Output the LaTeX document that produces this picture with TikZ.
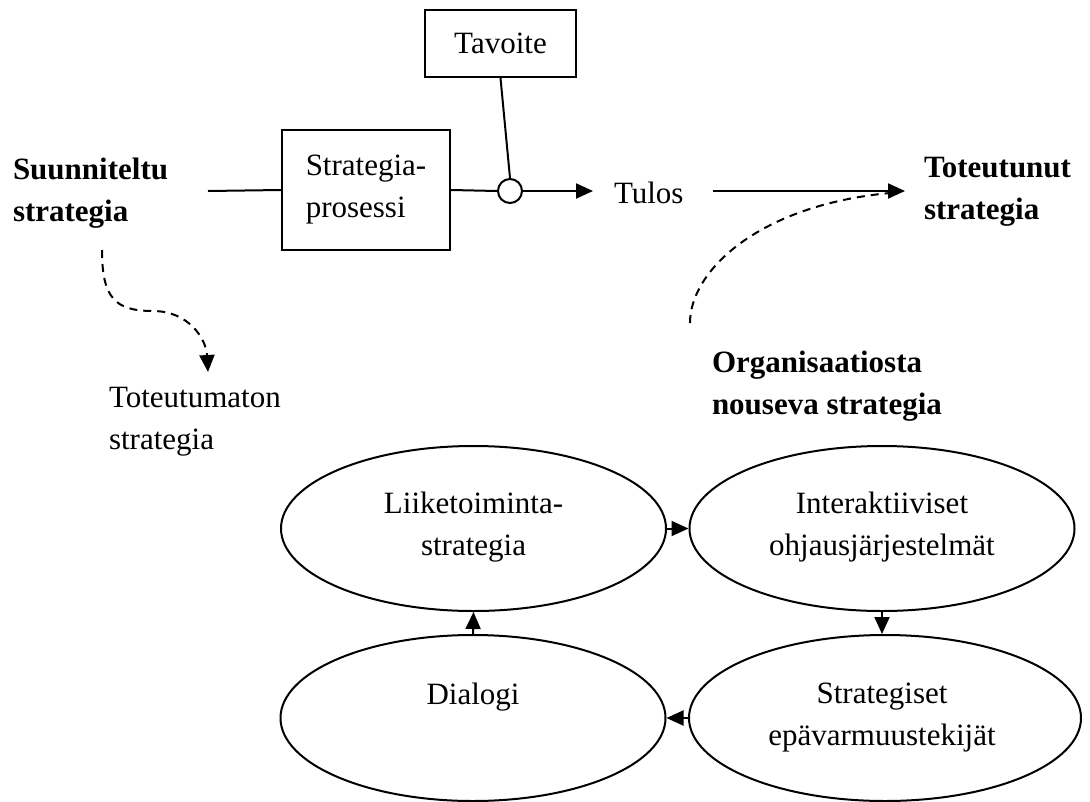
\documentclass[tikz,border=0pt]{standalone}
\usepackage{fontspec}
\setmainfont{Liberation Serif}
\usetikzlibrary{arrows.meta,shapes.geometric,positioning}

\begin{document}
\begin{tikzpicture}[x=1pt,y=-1pt,line width=2pt,
  >={Triangle[length=17pt,width=15pt]},
  every node/.style={font=\fontsize{31}{42}\selectfont, inner sep=0pt},
  txt/.style={align=left, anchor=west},
  bx/.style={draw, rectangle},
  oval/.style={draw, ellipse, minimum width=385pt, minimum height=165pt},
  dashline/.style={dash pattern=on 8pt off 6pt}]
\useasboundingbox (0,0) rectangle (1090,801);
%% top row
\node[txt, font=\fontsize{31}{42}\selectfont\bfseries] (plan) at (12,193) {Suunniteltu\\strategia};
\node[bx, align=left, minimum width=168pt, minimum height=120pt] (proc) at (366,190) {Strategia-\\prosessi};
\node[bx, minimum width=151pt, minimum height=67pt] (goal) at (500.5,43.5) {Tavoite};
\node[draw, circle, minimum size=24pt] (cmp) at (510,191) {};
\node[txt] (res) at (613,193) {Tulos};
\node[txt, font=\fontsize{31}{42}\selectfont\bfseries] (real) at (923,192) {Toteutunut\\strategia};
\node[txt] (unreal) at (108,422) {Toteutumaton\\strategia};
\node[txt, font=\fontsize{31}{42}\selectfont\bfseries] (emerg) at (711,386) {Organisaatiosta\\nouseva strategia};
\coordinate (in) at (208,191);
%% connectors
\draw (in) -- (proc.west);
\draw (proc.east) -- (cmp.west);
\draw (goal.south) -- (cmp.north);
\draw[->] (cmp.east) -- ([xshift=-20pt]res.west |- cmp.east);
\draw[->] ([xshift=28pt]res.east |- cmp.east) -- ([xshift=-18pt]real.west |- cmp.east);
%%% dashed curves
\coordinate (p0) at (102,250);
\coordinate (p1) at (153,311);
\coordinate (p2) at (208,372);
\draw[dashline,->] (p0) .. controls (102,298) and (115,311) .. (p1)
   .. controls (188,311) and (206,338) .. (p2);
\coordinate (q0) at (690,323);
\coordinate (q1) at (890,193);
\draw[dashline] (q0) .. controls (690,270) and (760,205) .. (q1);
%% cycle
\node[oval] (biz) at (473.5,528.5) {};
\node[align=center] at (473.5,527) {Liiketoiminta-\\strategia};
\node[oval] (inter) at (882,528.5) {};
\node[align=center] at (882,527) {Interaktiiviset\\ohjausjärjestelmät};
\node[oval, minimum width=392pt, minimum height=166pt] (unc) at (885,718) {};
\node[align=center] at (882,718) {Strategiset\\epävarmuustekijät};
\node[oval, minimum height=166pt] (dia) at (473,718) {};
\node at (473,697) {Dialogi};
\draw[->] (biz.east) -- (inter.west);
\draw[->] (inter.south) -- (inter.south |- unc.north);
\draw[->] (unc.west) -- (dia.east);
\draw[->] (dia.north) -- (biz.south);
\end{tikzpicture}
\end{document}
